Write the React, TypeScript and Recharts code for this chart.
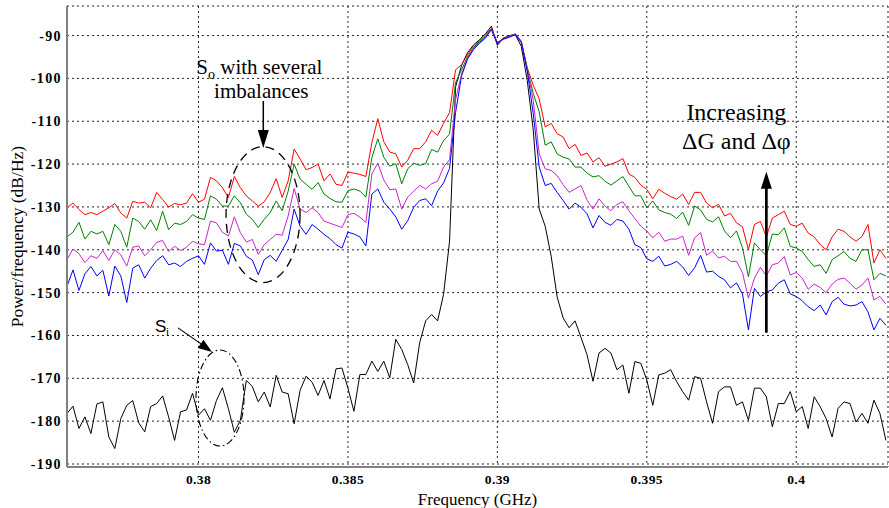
import { CartesianGrid, Label, Line, LineChart, ReferenceDot, XAxis, YAxis } from "recharts";

// spectrum sampled every 0.2 MHz starting at 0.3756 GHz
const FREQ_START = 0.3756;
const FREQ_STEP = 0.0002;

const X_TICKS = [0.38, 0.385, 0.39, 0.395, 0.4];
const Y_TICKS = [-190, -180, -170, -160, -150, -140, -130, -120, -110, -100, -90];

// Si: input signal (black)
const SI = [
  -178.2, -176.5, -181.7, -179.0, -182.9, -176.0, -175.5, -183.7, -186.4, -179.4,
  -176.3, -175.2, -180.4, -182.5, -176.6, -175.9, -174.1, -179.0, -184.5, -177.8,
  -177.4, -173.5, -178.6, -177.1, -179.8, -175.2, -172.2, -177.1, -182.6, -179.8,
  -170.5, -171.9, -175.5, -173.2, -176.7, -169.3, -173.2, -173.6, -180.6, -172.8,
  -169.5, -170.9, -174.0, -170.5, -174.8, -167.8, -167.6, -172.3, -177.7, -169.1,
  -169.1, -166.0, -168.4, -166.0, -169.9, -160.9, -163.3, -166.8, -171.1, -161.7,
  -156.6, -155.1, -156.6, -150.4, -138.0, -102.0, -97.0, -94.0, -92.2, -91.0,
  -89.6, -87.8, -92.3, -90.6, -90.0, -89.8, -92.5, -100.5, -112.0, -130.5,
  -134.5, -141.5, -151.0, -155.9, -158.2, -156.6, -160.5, -164.5, -170.7, -164.1,
  -163.0, -164.1, -168.0, -166.9, -173.5, -166.1, -166.5, -170.4, -176.3, -169.2,
  -168.8, -168.0, -170.8, -173.1, -175.1, -169.6, -170.0, -175.5, -180.5, -173.1,
  -172.0, -172.0, -176.3, -175.5, -179.8, -172.3, -172.3, -174.3, -181.3, -175.9,
  -175.9, -173.1, -177.8, -176.6, -181.7, -174.3, -176.6, -179.4, -183.7, -177.0,
  -175.5, -175.9, -180.2, -178.2, -180.5, -175.1, -178.2, -184.5,
];

// So with the largest imbalance (red)
const SO_RED = [
  -130.2, -129.1, -130.6, -131.8, -131.3, -131.8, -131.0, -130.2, -129.2, -131.4,
  -132.6, -128.7, -129.1, -128.9, -130.2, -126.6, -128.3, -130.0, -129.2, -129.5,
  -129.1, -126.9, -128.9, -128.2, -123.1, -123.9, -125.5, -127.8, -122.9, -125.5,
  -127.4, -128.6, -129.8, -128.8, -126.6, -123.4, -127.8, -123.9, -116.5, -118.8,
  -121.3, -120.8, -120.0, -123.9, -122.3, -124.7, -125.0, -121.9, -122.1, -122.4,
  -122.9, -115.0, -109.4, -114.8, -117.2, -117.6, -120.7, -119.1, -116.4, -116.4,
  -114.8, -112.1, -113.3, -110.5, -108.0, -98.0, -96.8, -94.5, -92.4, -91.2,
  -89.9, -88.3, -91.8, -90.6, -90.2, -89.7, -91.5, -97.5, -101.6, -104.8,
  -111.3, -110.5, -112.9, -113.7, -116.4, -115.4, -118.0, -117.4, -119.5, -118.5,
  -120.5, -120.0, -119.5, -118.7, -122.3, -123.1, -124.9, -125.9, -128.1, -125.9,
  -126.8, -127.6, -128.2, -127.0, -129.4, -126.6, -126.6, -129.1, -130.2, -129.4,
  -132.1, -131.5, -133.7, -134.6, -140.0, -134.1, -133.4, -137.0, -132.6, -131.8,
  -131.0, -134.1, -134.5, -133.8, -136.1, -137.0, -138.8, -140.0, -137.0, -135.2,
  -135.7, -137.0, -138.0, -136.9, -134.1, -143.1, -140.0, -142.0,
];

const SO_GREEN = [
  -137.0, -135.9, -133.6, -137.5, -135.7, -136.3, -135.7, -138.8, -134.1, -135.7,
  -139.4, -132.6, -133.4, -135.2, -133.0, -135.5, -131.0, -135.3, -133.8, -134.1,
  -133.4, -131.8, -132.6, -132.9, -127.4, -128.2, -129.8, -129.8, -127.4, -129.0,
  -131.7, -132.9, -134.8, -132.9, -131.3, -128.6, -130.9, -126.3, -120.0, -123.5,
  -124.7, -125.9, -124.3, -127.0, -128.0, -128.8, -128.9, -126.2, -125.8, -126.3,
  -127.7, -118.5, -114.1, -118.4, -120.5, -119.9, -124.6, -121.1, -119.8, -120.3,
  -119.9, -116.6, -117.2, -114.5, -113.0, -101.0, -98.0, -95.0, -92.8, -91.4,
  -90.2, -88.5, -91.6, -90.8, -90.1, -89.6, -91.3, -97.8, -103.5, -107.8,
  -115.6, -114.8, -117.6, -118.4, -118.8, -120.7, -120.7, -122.1, -123.0, -122.7,
  -124.0, -124.9, -123.9, -122.9, -125.2, -127.4, -127.4, -130.2, -128.6, -130.7,
  -131.3, -131.7, -132.7, -131.2, -134.3, -129.8, -130.7, -132.9, -133.5, -132.3,
  -135.6, -137.2, -135.6, -139.5, -146.3, -138.4, -140.0, -141.4, -136.3, -136.5,
  -134.9, -139.2, -139.6, -140.4, -142.3, -143.9, -143.5, -145.5, -142.3, -141.4,
  -140.4, -142.0, -142.7, -140.0, -140.0, -147.0, -145.5, -146.1,
];

const SO_MAGENTA = [
  -142.3, -139.8, -140.9, -143.0, -141.4, -142.0, -140.2, -142.5, -140.0, -141.2,
  -143.8, -139.4, -139.1, -141.4, -140.0, -138.3, -137.8, -140.4, -139.2, -140.2,
  -139.4, -138.0, -138.6, -138.8, -133.3, -133.7, -135.9, -136.8, -132.3, -136.0,
  -138.2, -137.6, -141.1, -138.8, -137.6, -136.4, -136.6, -132.1, -125.7, -130.5,
  -131.3, -130.2, -131.3, -133.3, -133.8, -134.3, -134.8, -131.8, -131.5, -132.4,
  -133.6, -122.3, -119.8, -123.7, -126.0, -125.8, -130.5, -127.7, -126.3, -125.0,
  -125.8, -124.6, -124.0, -120.7, -119.0, -105.0, -99.0, -95.3, -93.0, -91.6,
  -90.4, -88.4, -91.7, -90.9, -90.2, -89.6, -91.4, -98.0, -105.1, -117.6,
  -121.1, -121.5, -122.7, -124.8, -126.6, -125.8, -125.0, -128.4, -130.5, -128.1,
  -129.8, -130.9, -129.4, -128.8, -130.9, -132.7, -134.5, -135.6, -137.2, -135.9,
  -138.0, -137.5, -137.5, -136.8, -141.3, -137.2, -136.0, -141.3, -140.3, -141.9,
  -141.5, -142.7, -142.7, -145.3, -151.3, -146.6, -144.1, -146.1, -143.5, -143.1,
  -141.6, -145.9, -145.3, -146.6, -149.2, -148.0, -148.8, -150.0, -148.0, -146.9,
  -146.6, -147.8, -149.2, -148.2, -146.6, -151.7, -150.9, -152.7,
];

// So with the smallest imbalance (blue)
const SO_BLUE = [
  -148.5, -144.7, -149.5, -145.6, -143.9, -146.1, -144.8, -150.8, -143.8, -146.1,
  -152.3, -144.3, -143.5, -146.6, -144.3, -142.5, -141.4, -143.5, -143.1, -143.9,
  -142.7, -142.0, -141.4, -143.4, -138.4, -140.3, -140.1, -143.4, -138.5, -139.1,
  -141.5, -142.4, -145.8, -142.3, -141.3, -142.7, -140.1, -137.6, -130.5, -134.5,
  -136.4, -134.1, -135.2, -136.4, -137.4, -138.8, -139.6, -135.9, -136.3, -137.0,
  -139.1, -127.0, -125.8, -128.9, -130.5, -132.3, -135.2, -133.2, -130.1, -128.5,
  -128.1, -129.7, -126.3, -124.4, -121.0, -108.0, -99.5, -95.5, -93.3, -91.8,
  -90.6, -88.6, -91.9, -90.8, -90.4, -89.8, -91.6, -98.3, -108.2, -120.7,
  -125.0, -124.5, -126.6, -128.5, -130.5, -129.1, -130.1, -131.6, -134.9, -132.0,
  -133.6, -134.3, -132.9, -133.3, -135.2, -138.8, -139.5, -142.1, -142.7, -141.5,
  -143.8, -143.4, -142.7, -144.0, -146.0, -144.2, -141.3, -145.2, -145.0, -146.2,
  -147.0, -148.9, -147.7, -150.3, -158.7, -149.0, -150.9, -149.8, -149.4, -147.8,
  -147.0, -150.3, -150.9, -151.9, -153.3, -154.2, -152.9, -155.2, -152.1, -151.1,
  -152.7, -153.1, -152.9, -152.1, -154.5, -158.7, -156.0, -157.6,
];

const data = SI.map((si, i) => ({
  f: Number((FREQ_START + i * FREQ_STEP).toFixed(4)),
  si,
  red: SO_RED[i],
  green: SO_GREEN[i],
  magenta: SO_MAGENTA[i],
  blue: SO_BLUE[i],
}));

const SERIF = "'Liberation Serif', 'Times New Roman', serif";
const FRAME = "#808080";

const tickStyle = { fontFamily: SERIF, fontSize: 14, fontWeight: 700, fill: "#000" };

function SoArrow({ cx, cy }: { cx: number; cy: number }) {
  return (
    <g>
      <text x={cx - 67} y={cy - 74} fontFamily={SERIF} fontSize={21} fill="#000">
        S
        <tspan fontSize={14} dy={5}>o</tspan>
        <tspan dy={-5}> with several</tspan>
      </text>
      <text x={cx - 2} y={cy - 50} fontFamily={SERIF} fontSize={21} fill="#000" textAnchor="middle">
        imbalances
      </text>
      <line x1={cx} y1={cy - 47} x2={cx} y2={cy - 16} stroke="#000" strokeWidth={1.5} />
      <polygon points={`${cx - 5.5},${cy - 18} ${cx + 5.5},${cy - 18} ${cx},${cy}`} fill="#000" />
    </g>
  );
}

function SiArrow({ cx, cy }: { cx: number; cy: number }) {
  return (
    <g>
      <text x={cx - 57} y={cy - 20} fontFamily="'Liberation Sans', Arial, sans-serif" fontSize={17} fill="#000">
        S
        <tspan fontSize={11} dy={4}>i</tspan>
      </text>
      <line x1={cx - 34} y1={cy - 24} x2={cx - 11} y2={cy - 8} stroke="#000" strokeWidth={1.2} />
      <polygon points={`${cx},${cy} ${cx - 14.3},${cy - 4} ${cx - 8.5},${cy - 12.2}`} fill="#000" />
    </g>
  );
}

function IncreasingArrow({ cx, cy }: { cx: number; cy: number }) {
  return (
    <g>
      <text x={cx - 30} y={cy - 52} fontFamily={SERIF} fontSize={24} fill="#000" textAnchor="middle">
        Increasing
      </text>
      <text x={cx - 30} y={cy - 23} fontFamily={SERIF} fontSize={24} fill="#000" textAnchor="middle">
        ΔG and Δφ
      </text>
      <line x1={cx} y1={cy + 14} x2={cx} y2={cy + 161} stroke="#000" strokeWidth={2.7} />
      <polygon points={`${cx - 5.5},${cy + 17} ${cx + 5.5},${cy + 17} ${cx},${cy}`} fill="#000" />
    </g>
  );
}

export default function App() {
  return (
    <div style={{ position: "absolute", left: 0, top: 0, background: "#fff" }}>
      <LineChart width={889} height={508} data={data} margin={{ top: 6, right: 1, bottom: 0, left: 0 }}>
        <CartesianGrid stroke="#222" strokeDasharray="2 3" />
        <XAxis
          dataKey="f"
          type="number"
          domain={[0.3756, 0.40307]}
          ticks={X_TICKS}
          allowDataOverflow
          height={41}
          tickSize={0}
          tickMargin={7}
          tickLine={false}
          axisLine={{ stroke: FRAME, strokeWidth: 2 }}
          tick={{ ...tickStyle, fontSize: 13.5, letterSpacing: 0.4 }}
        >
          <Label
            value="Frequency (GHz)"
            position="insideBottom"
            offset={3.5}
            style={{ fontFamily: SERIF, fontSize: 17, fill: "#000" }}
          />
        </XAxis>
        <XAxis
          xAxisId="top"
          dataKey="f"
          type="number"
          orientation="top"
          domain={[0.3756, 0.40307]}
          height={0}
          tick={false}
          tickLine={false}
          axisLine={{ stroke: FRAME, strokeWidth: 2 }}
        />
        <YAxis
          type="number"
          domain={[-190.7, -83.1]}
          ticks={Y_TICKS}
          allowDataOverflow
          width={67}
          tickSize={0}
          tickMargin={5}
          tickLine={false}
          axisLine={{ stroke: FRAME, strokeWidth: 2 }}
          tick={{ ...tickStyle, letterSpacing: 1.4 }}
        >
          <Label
            value="Power/frequency (dB/Hz)"
            angle={-90}
            position="insideLeft"
            offset={17}
            style={{ fontFamily: SERIF, fontSize: 17.5, fill: "#000", textAnchor: "middle" }}
          />
        </YAxis>
        <Line dataKey="si" stroke="#000" strokeWidth={1} dot={false} isAnimationActive={false} />
        <Line dataKey="red" stroke="#ff0000" strokeWidth={1} dot={false} isAnimationActive={false} />
        <Line dataKey="green" stroke="#008000" strokeWidth={1} dot={false} isAnimationActive={false} />
        <Line dataKey="magenta" stroke="#cc22cc" strokeWidth={1} dot={false} isAnimationActive={false} />
        <Line dataKey="blue" stroke="#0000ff" strokeWidth={1} dot={false} isAnimationActive={false} />
        <ReferenceDot
          x={0.38216}
          y={-131.8}
          r={0}
          ifOverflow="visible"
          shape={(p: any) => (
            <ellipse cx={p.cx} cy={p.cy} rx={37} ry={68} fill="none" stroke="#000" strokeWidth={1.3} strokeDasharray="9 6" />
          )}
        />
        <ReferenceDot
          x={0.380719}
          y={-174.6}
          r={0}
          ifOverflow="visible"
          shape={(p: any) => (
            <ellipse cx={p.cx} cy={p.cy} rx={24} ry={48} fill="none" stroke="#000" strokeWidth={1.1} strokeDasharray="7 3 1.5 3" />
          )}
        />
        <ReferenceDot x={0.382168} y={-116.24} r={0} ifOverflow="visible" shape={(p: any) => <SoArrow cx={p.cx} cy={p.cy} />} />
        <ReferenceDot x={0.380452} y={-163.83} r={0} ifOverflow="visible" shape={(p: any) => <SiArrow cx={p.cx} cy={p.cy} />} />
        <ReferenceDot x={0.399} y={-121.78} r={0} ifOverflow="visible" shape={(p: any) => <IncreasingArrow cx={p.cx} cy={p.cy} />} />
      </LineChart>
    </div>
  );
}
